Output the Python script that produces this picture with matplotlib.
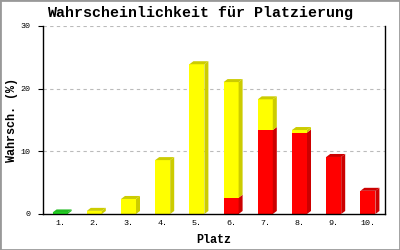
import matplotlib
matplotlib.use("Agg")
import matplotlib.pyplot as plt
from matplotlib.patches import Polygon, Rectangle

places = ["1.", "2.", "3.", "4.", "5.", "6.", "7.", "8.", "9.", "10."]
green = [0.25, 0, 0, 0, 0, 0, 0, 0, 0, 0]
yellow = [0, 0.5, 2.4, 8.6, 23.9, 18.45, 4.9, 0.4, 0, 0]
red = [0, 0, 0, 0, 0, 2.6, 13.4, 13.0, 9.1, 3.7]

# (front, side/top) colours per series, stacked bottom to top: red, yellow, green
series = [
    (red, "#FF0000", "#CC0000"),
    (yellow, "#FFFF00", "#CCCC00"),
    (green, "#22DD22", "#22BB22"),
]

mono = ["Liberation Mono", "DejaVu Sans Mono"]

fig = plt.figure(figsize=(4, 2.5), dpi=100)
ax = fig.add_axes([0.1075, 0.144, 0.855, 0.752])
ax.set_xlim(0.5, 10.5)
ax.set_ylim(0, 30)

bbox = ax.get_window_extent()
sx = bbox.width / 10.0
sy = bbox.height / 30.0
dx = 4 / sx   # depth offset in data units (4 px)
dy = 3 / sy   # depth offset in data units (3 px)
w = 15 / sx   # bar front width (15 px)

for i in range(len(places)):
    x = i + 1
    x0, x1 = x - w / 2, x + w / 2
    bottom = 0
    segs = [(vals[i], fc, dc) for vals, fc, dc in series if vals[i] > 0]
    for k, (v, fc, dc) in enumerate(segs):
        top = bottom + v
        ax.add_patch(Rectangle((x0, bottom), w, v, facecolor=fc,
                               edgecolor="none", zorder=3))
        ax.add_patch(Polygon([(x1, bottom), (x1 + dx, bottom + dy),
                              (x1 + dx, top + dy), (x1, top)],
                             closed=True, facecolor=dc, edgecolor="none", zorder=3))
        if k == len(segs) - 1:
            ax.add_patch(Polygon([(x0, top), (x0 + dx, top + dy),
                                  (x1 + dx, top + dy), (x1, top)],
                                 closed=True, facecolor=dc, edgecolor="none", zorder=3))
        bottom = top

ax.set_yticks([0, 10, 20, 30])
ax.set_xticks(range(1, 11))
ax.set_xticklabels(places)
for lab in ax.get_xticklabels() + ax.get_yticklabels():
    lab.set_family(mono)
    lab.set_fontsize(6)
ax.tick_params(axis="y", length=3.8, width=0.8, pad=5)
ax.tick_params(axis="x", length=0, pad=4.5)

for y in [10, 20, 30]:
    ax.axhline(y, color="#BBBBBB", linewidth=0.8, linestyle=(0, (3, 3)), zorder=1)

ax.spines["top"].set_visible(False)
for s in ["left", "bottom", "right"]:
    ax.spines[s].set_linewidth(1.0)
    ax.spines[s].set_zorder(4)

ax.set_ylabel("Wahrsch. (%)", family=mono, fontsize=8.5, fontweight="bold",
              va="center")
ax.yaxis.set_label_coords(-0.09, 0.5)
ax.set_xlabel("Platz", family=mono, fontsize=8.5, fontweight="bold", labelpad=5)
fig.text(0.5, 0.948, "Wahrscheinlichkeit für Platzierung", ha="center", va="center",
         family=mono, fontsize=10.8, fontweight="bold")

fig.patches.append(Rectangle((0, 0), 1, 1, transform=fig.transFigure, fill=False,
                             edgecolor="#999999", linewidth=2))

fig.savefig("out.png", dpi=100)
